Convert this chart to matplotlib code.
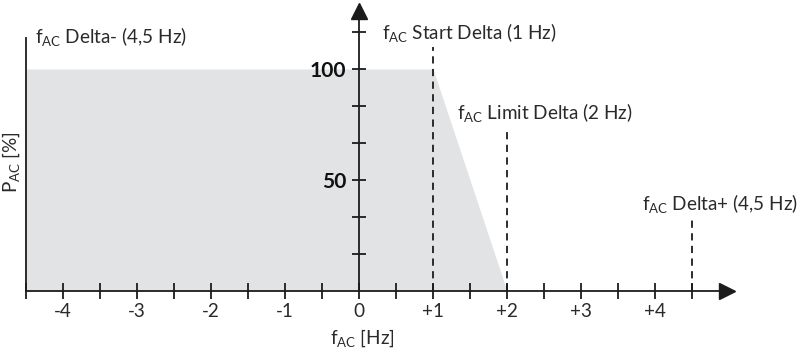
import matplotlib
matplotlib.use("Agg")
import matplotlib.pyplot as plt
import numpy as np

plt.rcParams['font.family'] = ['Lato', 'DejaVu Sans']
plt.rcParams['mathtext.fontset'] = 'custom'
plt.rcParams['mathtext.rm'] = 'Lato'
plt.rcParams['mathtext.it'] = 'Lato:italic'

# power curve: P_AC [%] against frequency deviation f_AC [Hz]
curve_f = [-4.5, 1, 2]
curve_p = [100, 100, 0]

# limit frequencies
f_delta_minus = -4.5
f_start = 1
f_limit = 2
f_delta_plus = 4.5

x_ticks = np.arange(-4.5, 4.51, 0.5)
x_labels = {-4: '-4', -3: '-3', -2: '-2', -1: '-1', 0: '0',
            1: '+1', 2: '+2', 3: '+3', 4: '+4'}
y_ticks = [100 / 6 * i for i in range(1, 8)]
y_labels = {100: '100', 50: '50'}

TXT = '#2a2a2a'
LINE = '#1c1c1c'
FS = 13.6

fig = plt.figure(figsize=(8, 3.51), dpi=100)
ax = fig.add_axes([0, 0, 1, 1])
ax.set_xlim(-359 / 74, 441 / 74)
ax.set_ylim(-60 / 2.22, 291 / 2.22)

ax.fill_between(curve_f, curve_p, 0, color='#e2e3e4', lw=0, zorder=1)

# spines through origin with arrows
for s in ['top', 'right']:
    ax.spines[s].set_visible(False)
ax.spines['left'].set_position(('data', 0))
ax.spines['bottom'].set_position(('data', 0))
ax.spines['left'].set_bounds(0, 125)
ax.spines['bottom'].set_bounds(-4.5, 4.9)
for s in ['left', 'bottom']:
    ax.spines[s].set_color(LINE)
    ax.spines[s].set_linewidth(1.3)
    ax.spines[s].set_zorder(3)
ax.plot([4.97], [0], marker='>', ms=11, color=LINE, clip_on=False, zorder=4)
ax.plot([0], [126.3], marker='^', ms=11, color=LINE, clip_on=False, zorder=4)

ax.set_xticks(x_ticks)
ax.set_xticklabels([x_labels.get(int(t), '') if float(t).is_integer() else '' for t in x_ticks])
ax.set_yticks(y_ticks)
ax.set_yticklabels([y_labels.get(int(round(t)), '') if abs(t - round(t)) < 1e-6 else '' for t in y_ticks])
ax.tick_params(axis='x', direction='inout', length=11, width=1.3, color=LINE,
               labelsize=FS, labelcolor=TXT, pad=3)
ax.tick_params(axis='y', direction='inout', length=10, width=1.3, color=LINE,
               labelsize=FS + 1.5, labelcolor='#111111', pad=4)
for lab in ax.get_yticklabels():
    lab.set_fontweight('bold')

# boundary lines
ax.plot([f_delta_minus, f_delta_minus], [0, 114], color=LINE, lw=1.3, zorder=3)
ax.plot([f_start, f_start], [0, 110], color=LINE, lw=1.3, ls=(0, (4, 3)), zorder=3)
ax.plot([f_limit, f_limit], [0, 72.5], color=LINE, lw=1.3, ls=(0, (4, 3)), zorder=3)
ax.plot([f_delta_plus, f_delta_plus], [0, 33], color=LINE, lw=1.3, ls=(0, (4, 3)), zorder=3)

sub = r'f$_{\mathrm{AC}}$'
ax.text(-4.38, 114.5, sub + ' Delta- (4,5 Hz)', fontsize=FS, color=TXT, va='center')
ax.text(0.31, 116.5, sub + ' Start Delta (1 Hz)', fontsize=FS, color=TXT, va='center')
ax.text(1.32, 80.5, sub + ' Limit Delta (2 Hz)', fontsize=FS, color=TXT, va='center')
ax.text(3.82, 39.5, sub + ' Delta+ (4,5 Hz)', fontsize=FS, color=TXT, va='center')

ax.text(0.04, -21.5, sub + ' [Hz]', fontsize=FS, color=TXT, ha='center', va='center')
ax.text(-4.7, 58, r'P$_{\mathrm{AC}}$ [%]', fontsize=FS, color=TXT, ha='center',
        va='center', rotation=90)

fig.savefig('out.png', dpi=100)
